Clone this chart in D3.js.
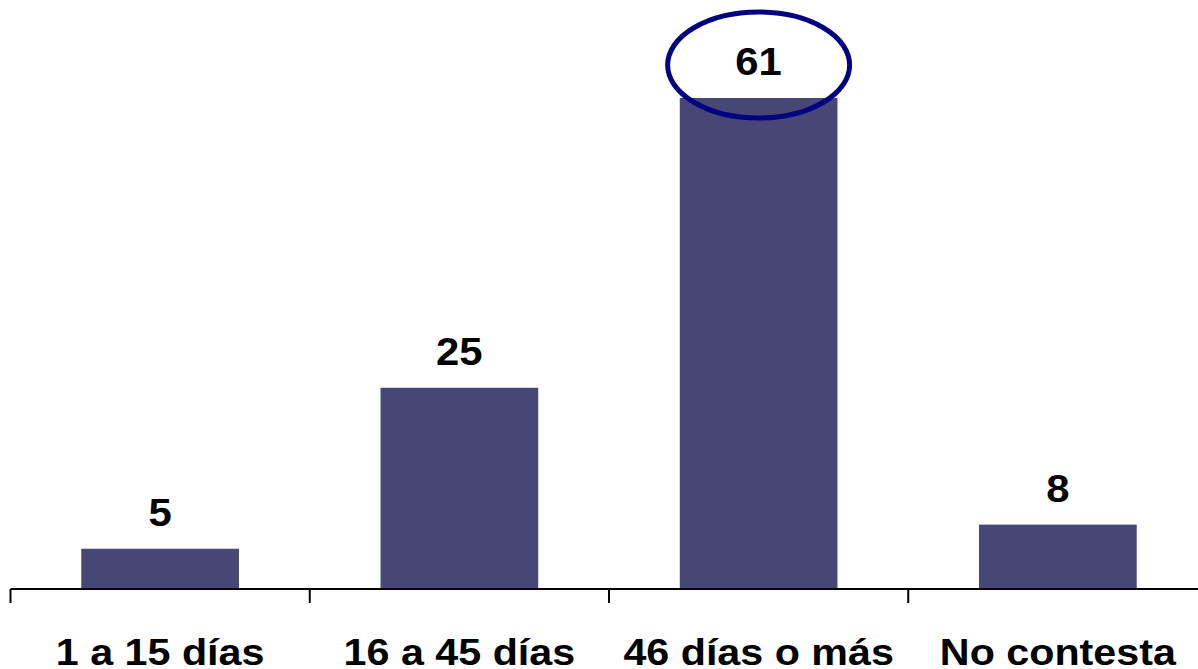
<!DOCTYPE html>
<html>
<head>
<meta charset="utf-8">
<script src="https://cdn.jsdelivr.net/npm/d3@7"></script>
<style>
  html, body { margin: 0; padding: 0; background: #fff; }
  svg { display: block; }
  text { font-family: "Liberation Sans", Arial, sans-serif; font-weight: bold; fill: #000; }
</style>
</head>
<body>
<svg id="chart" width="1198" height="669"></svg>
<script>
// Response categories and counts
const categories = ["1 a 15 días", "16 a 45 días", "46 días o más", "No contesta"];
const values = [5, 25, 61, 8];
// Category that gets the highlight ring around its label
const highlighted = ["46 días o más"];

const svg = d3.select("#chart");
const W = 1198, H = 669;
const baseY = 589;

const x = d3.scaleBand()
  .domain(categories)
  .range([10.5, 1207.5])
  .paddingInner(0.473)
  .paddingOuter(0.2365);

const y = d3.scaleLinear()
  .domain([0, 61])
  .range([baseY, 98]);

const barColor = "#474777";
const textScale = 1.1;

// Bars
svg.append("g").selectAll("rect")
  .data(values)
  .join("rect")
  .attr("x", (d, i) => x(categories[i]))
  .attr("y", d => y(d))
  .attr("width", x.bandwidth())
  .attr("height", d => baseY - y(d))
  .attr("fill", barColor);

// Category axis: baseline with boundary ticks
const axis = svg.append("g");
axis.append("line")
  .attr("x1", 10.5).attr("x2", W)
  .attr("y1", baseY).attr("y2", baseY)
  .attr("stroke", "#000").attr("stroke-width", 2);

const step = x.step();
const boundaries = d3.range(categories.length + 1).map(i => x.range()[0] + i * step);
axis.selectAll("line.tick")
  .data(boundaries)
  .join("line")
  .attr("class", "tick")
  .attr("x1", d => d).attr("x2", d => d)
  .attr("y1", baseY).attr("y2", baseY + 14)
  .attr("stroke", "#000").attr("stroke-width", 2);

// Category labels
axis.selectAll("text")
  .data(categories)
  .join("text")
  .attr("transform", d => `translate(${x(d) + x.bandwidth() / 2},664.5) scale(${textScale},1)`)
  .attr("text-anchor", "middle")
  .attr("font-size", 37.5)
  .text(d => d);

// Value labels above the bars
svg.append("g").selectAll("text")
  .data(values)
  .join("text")
  .attr("transform", (d, i) => `translate(${x(categories[i]) + x.bandwidth() / 2},${y(d) - 23}) scale(${textScale},1)`)
  .attr("text-anchor", "middle")
  .attr("font-size", 38)
  .text(d => d);

// Highlight ring around the leading value
svg.append("g").selectAll("ellipse")
  .data(highlighted)
  .join("ellipse")
  .attr("cx", d => x(d) + x.bandwidth() / 2)
  .attr("cy", d => y(values[categories.indexOf(d)]) - 33)
  .attr("rx", 91)
  .attr("ry", 53)
  .attr("fill", "none")
  .attr("stroke", "#000080")
  .attr("stroke-width", 5);
</script>
</body>
</html>
